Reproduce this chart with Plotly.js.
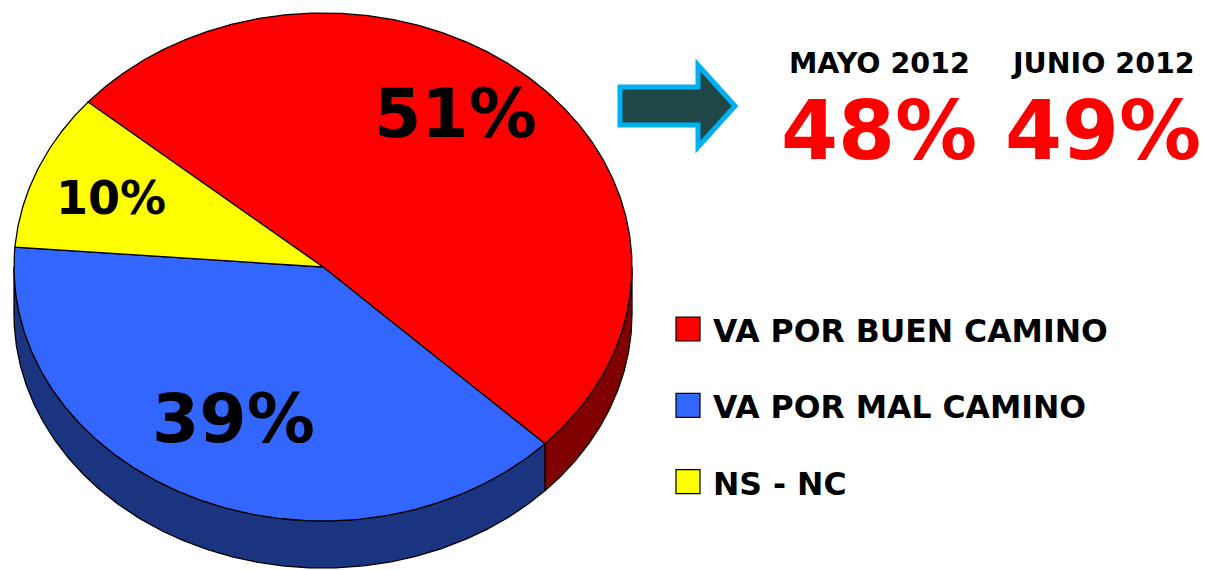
<!DOCTYPE html>
<html>
<head>
<meta charset="utf-8">
<script src="https://cdn.plot.ly/plotly-3.0.1.min.js"></script>
<style>
  html, body { margin: 0; padding: 0; background: #ffffff; }
  #chart { width: 1205px; height: 570px; }
</style>
</head>
<body>
<div id="chart"></div>
<script>
// ---- data ----
const categories = ['VA POR BUEN CAMINO', 'VA POR MAL CAMINO', 'NS - NC'];
const values = [51, 39, 10];
const prevMonths = ['MAYO 2012', 'JUNIO 2012'];
const prevValues = [48, 49];

// ---- styles ----
const topColors = ['#FF0000', '#3366FF', '#FFFF00'];
const sideColors = ['#800000', '#1A347F', '#808000'];
const FONT = 'DejaVu Sans';

// ---- pie geometry (3D projected pie) ----
const CX = 323, CY = 267, RX = 309, RY = 254, DEPTH = 47;
const START = 139.5; // parametric start angle, clockwise
const total = values.reduce((a, b) => a + b, 0);

function pt(tDeg, dy) {
  const t = tDeg * Math.PI / 180;
  return [CX + RX * Math.cos(t), CY - RY * Math.sin(t) + (dy || 0)];
}
function arc(from, to, dy) {
  const pts = [];
  const n = Math.max(2, Math.ceil(Math.abs(to - from) / 0.5));
  for (let k = 0; k <= n; k++) pts.push(pt(from + (to - from) * k / n, dy));
  return pts;
}

const sideTraces = [];
const topTraces = [];
let cum = 0;
values.forEach((v, i) => {
  const a0 = START - cum / total * 360;
  const a1 = a0 - v / total * 360;
  cum += v;
  // sides: visible where sin(t) < 0
  for (let k = -2; k <= 1; k++) {
    const lo = Math.max(a1, 360 * k - 180);
    const hi = Math.min(a0, 360 * k);
    if (hi > lo) {
      const topArc = arc(lo, hi, 0);
      const botArc = arc(hi, lo, DEPTH);
      const poly = topArc.concat(botArc);
      poly.push(topArc[0]);
      sideTraces.push({
        type: 'scatter', mode: 'lines', fill: 'toself',
        x: poly.map(p => p[0]), y: poly.map(p => p[1]),
        fillcolor: sideColors[i], line: {color: '#000000', width: 1.3},
        hoverinfo: 'skip', showlegend: false
      });
    }
  }
  const poly = [[CX, CY]].concat(arc(a0, a1, 0));
  poly.push([CX, CY]);
  topTraces.push({
    type: 'scatter', mode: 'lines', fill: 'toself',
    x: poly.map(p => p[0]), y: poly.map(p => p[1]),
    fillcolor: topColors[i], line: {color: '#000000', width: 1.3},
    hoverinfo: 'skip', showlegend: false, name: categories[i]
  });
});

// ---- annotation layout positions ----
const pieLabelPos = [[455, 113], [233, 418], [111, 198]];
const pieLabelSize = [68, 68, 46];
const legendX = 676, legendY0 = 329, legendStep = 76.3, legendBox = 24;
const headerX = [879, 1103], headerY = 63, bigY = 130;

const annotations = [];
values.forEach((v, i) => {
  annotations.push({
    xref: 'x', yref: 'y', x: pieLabelPos[i][0], y: pieLabelPos[i][1],
    text: v + '%', showarrow: false, xanchor: 'center', yanchor: 'middle',
    font: {family: FONT, weight: 'bold', size: pieLabelSize[i], color: '#000000'}
  });
});
const shapes = [];
categories.forEach((c, i) => {
  const yc = legendY0 + i * legendStep;
  shapes.push({
    type: 'rect', xref: 'x', yref: 'y',
    x0: legendX, x1: legendX + legendBox, y0: yc - legendBox / 2, y1: yc + legendBox / 2,
    fillcolor: topColors[i], line: {color: '#000000', width: 1.2}
  });
  annotations.push({
    xref: 'x', yref: 'y', x: legendX + 35, y: yc + 2,
    text: c, showarrow: false, xanchor: 'left', yanchor: 'middle',
    font: {family: FONT, weight: 'bold', size: 31.5, color: '#000000'}
  });
});
prevMonths.forEach((m, i) => {
  annotations.push({
    xref: 'x', yref: 'y', x: headerX[i], y: headerY,
    text: m, showarrow: false, xanchor: 'center', yanchor: 'middle',
    font: {family: FONT, weight: 'bold', size: 28.5, color: '#000000'}
  });
  annotations.push({
    xref: 'x', yref: 'y', x: headerX[i], y: bigY,
    text: prevValues[i] + '%', showarrow: false, xanchor: 'center', yanchor: 'middle',
    font: {family: FONT, weight: 'bold', size: 82, color: '#FF0000'}
  });
});

// arrow
shapes.push({
  type: 'path', xref: 'x', yref: 'y',
  path: 'M 620 87 L 698 87 L 698 65 L 735 106 L 698 147 L 698 125 L 620 125 Z',
  fillcolor: '#1F4748', line: {color: '#00B0F0', width: 5}
});

const layout = {
  width: 1205, height: 570,
  margin: {l: 0, r: 0, t: 0, b: 0, pad: 0},
  paper_bgcolor: '#ffffff', plot_bgcolor: '#ffffff',
  xaxis: {range: [0, 1205], visible: false, fixedrange: true},
  yaxis: {range: [570, 0], visible: false, fixedrange: true},
  showlegend: false,
  shapes: shapes,
  annotations: annotations
};

Plotly.newPlot('chart', sideTraces.concat(topTraces), layout, {displayModeBar: false, staticPlot: true});
</script>
</body>
</html>
